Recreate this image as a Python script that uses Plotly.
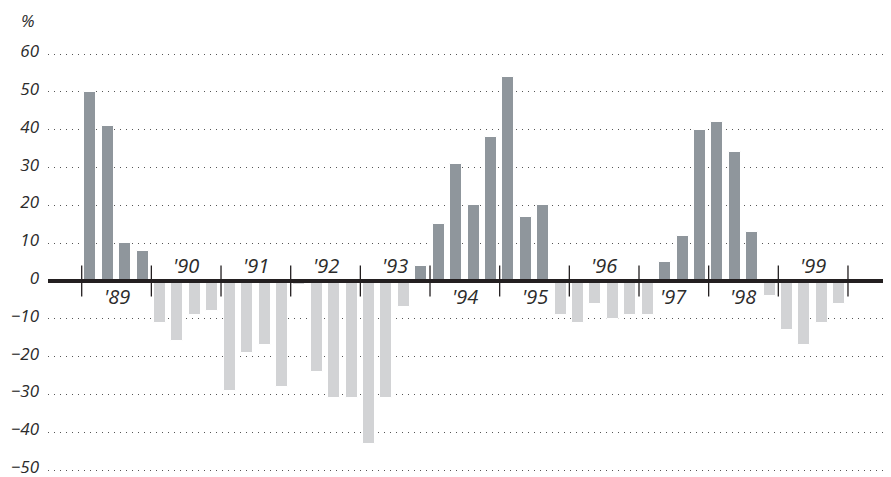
import plotly.graph_objects as go

years = ["'89", "'90", "'91", "'92", "'93", "'94", "'95", "'96", "'97", "'98", "'99"]
quarters = ["Q1", "Q2", "Q3", "Q4"]
values = [
    50, 41, 10, 8,        # 1989
    -11, -16, -9, -8,     # 1990
    -29, -19, -17, -28,   # 1991
    -1, -24, -31, -31,    # 1992
    -43, -31, -7, 4,      # 1993
    15, 31, 20, 38,       # 1994
    54, 17, 20, -9,       # 1995
    -11, -6, -10, -9,     # 1996
    -9, 5, 12, 40,        # 1997
    42, 34, 13, -4,       # 1998
    -13, -17, -11, -6,    # 1999
]
y_ticks = [60, 50, 40, 30, 20, 10, 0, -10, -20, -30, -40, -50]

POS = "#8f969c"
NEG = "#d2d3d5"
TXT = "#2b2b2b"
FONT = "Open Sans"

# page body has an 8px default margin; compensate so the plot lands where the reference has it
OFF = 8
W, H = 891 - OFF, 477 - OFF
L, T = 48 - OFF, 30 - OFF
PW, PH = 843, 447

x_idx = list(range(len(values)))
colors = [POS if v > 0 else NEG for v in values]

fig = go.Figure(go.Bar(
    x=x_idx, y=values, width=0.69,
    marker=dict(color=colors, line=dict(color="white", width=1)),
    hoverinfo="skip",
))

shapes = [dict(type="line", xref="paper", yref="y", x0=0, x1=1, y0=0, y1=0,
               line=dict(color="#231f20", width=4), layer="above")]
for k in range(len(years) + 1):
    xb = 4 * k - 0.5
    shapes.append(dict(type="line", xref="x", yref="y", x0=xb, x1=xb, y0=-4.1, y1=4.1,
                       line=dict(color="#231f20", width=1.3), layer="above"))

annotations = []
for k, yl in enumerate(years):
    s = sum(values[4 * k:4 * k + 4])
    above = s < 0
    annotations.append(dict(x=4 * k + 1.5, y=0, xref="x", yref="y", text=yl,
                            showarrow=False, yanchor="middle",
                            yshift=16 if above else -15,
                            font=dict(family=FONT, size=20, color=TXT, style="italic")))
annotations.append(dict(x=(28 - 48) / PW, y=1 + (30 - 20) / PH, xref="paper", yref="paper",
                        text="%", showarrow=False, xanchor="center", yanchor="middle",
                        font=dict(family=FONT, size=17, color=TXT, style="italic")))

fig.update_layout(
    width=W, height=H,
    margin=dict(l=L, r=W - L - PW, t=T, b=H - T - PH, pad=0),
    paper_bgcolor="white", plot_bgcolor="white",
    showlegend=False,
    bargap=0,
    shapes=shapes,
    annotations=annotations,
    xaxis=dict(range=[-2.435, 45.97], showgrid=False, zeroline=False,
               showticklabels=False, ticks="", showline=False, automargin=False),
    yaxis=dict(range=[-51.85, 66.4], tickvals=y_ticks, showgrid=True,
               gridcolor="#555555", gridwidth=1, griddash="1px,5px",
               zeroline=False, showline=False, ticks="", automargin=False,
               ticklabelstandoff=8, ticklabelshift=-3, ticklabeloverflow="allow",
               tickfont=dict(family=FONT, size=17, color=TXT, style="italic")),
)

fig.write_html("out.html")
